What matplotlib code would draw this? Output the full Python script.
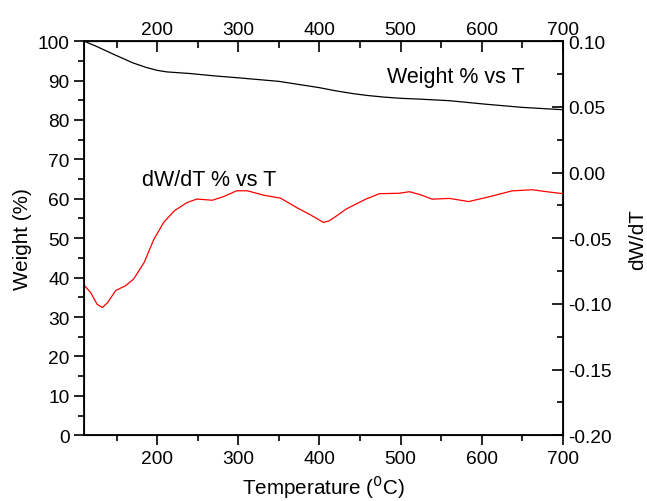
import matplotlib
matplotlib.use("Agg")
import matplotlib.pyplot as plt
from matplotlib.ticker import MultipleLocator, FormatStrFormatter

plt.rcParams['font.family'] = ['Liberation Sans', 'DejaVu Sans']

# weight loss curve (left axis)
temp_w = [110, 125, 146, 170, 187, 200, 212, 240, 270, 300, 350, 400, 420, 441, 460, 480, 500, 523, 560, 605, 650, 700]
weight = [100, 98.7, 96.7, 94.5, 93.3, 92.6, 92.2, 91.8, 91.2, 90.7, 89.8, 88.2, 87.4, 86.7, 86.2, 85.8, 85.5, 85.3,
          84.9, 84.0, 83.2, 82.6]

# derivative curve (right axis)
temp_d = [110, 118, 126, 132.5, 139, 149, 161, 171, 184, 196, 208, 221, 237, 249, 268, 282, 298, 311, 331, 352,
          372, 390, 405, 412, 420, 433, 457, 474, 498, 511, 525, 539, 560, 584, 613, 637, 662, 680, 700]
dwdt = [-0.0858, -0.0913, -0.1003, -0.1028, -0.0990, -0.0898, -0.0862, -0.0811, -0.0685, -0.0508, -0.038,
        -0.0292, -0.0228, -0.0202, -0.0211, -0.0183, -0.0139, -0.0139, -0.0172, -0.0195, -0.0267, -0.0326,
        -0.038, -0.0368, -0.0335, -0.0278, -0.0203, -0.0161, -0.0158, -0.0146, -0.017, -0.0203, -0.0197,
        -0.0221, -0.0179, -0.014, -0.0131, -0.0146, -0.0161]

fig = plt.figure(figsize=(6.47, 5.02), dpi=100)
ax = fig.add_axes([0.13, 0.131, 0.74, 0.785])
ax.plot(temp_w, weight, color='black', lw=0.9)
ax.set_xlim(110, 700)
ax.set_ylim(0, 100)
ax.xaxis.set_major_locator(MultipleLocator(100))
ax.xaxis.set_minor_locator(MultipleLocator(50))
ax.yaxis.set_major_locator(MultipleLocator(10))
ax.yaxis.set_minor_locator(MultipleLocator(5))
ax.tick_params(which='both', direction='out', labelsize=13.8, width=1.2)
ax.tick_params(which='major', length=7)
ax.tick_params(which='minor', length=4)
ax.set_xlabel('Temperature ($^0$C)', fontsize=14.9)
ax.set_ylabel('Weight (%)', fontsize=14.9)
for s in ax.spines.values():
    s.set_linewidth(1.3)

top = ax.secondary_xaxis('top')
top.xaxis.set_major_locator(MultipleLocator(100))
top.xaxis.set_minor_locator(MultipleLocator(50))
top.tick_params(which='both', direction='in', labelsize=13.8, width=1.2, pad=2)
top.tick_params(which='major', length=8)
top.tick_params(which='minor', length=5)

ax2 = ax.twinx()
ax2.plot(temp_d, dwdt, color='red', lw=0.9)
ax2.set_ylim(-0.20, 0.10)
ax2.yaxis.set_major_locator(MultipleLocator(0.05))
ax2.yaxis.set_minor_locator(MultipleLocator(0.025))
ax2.yaxis.set_major_formatter(FormatStrFormatter('%.2f'))
ax2.tick_params(which='both', direction='in', labelsize=13.8, width=1.2)
ax2.tick_params(which='major', length=8)
ax2.tick_params(which='minor', length=4)
ax2.set_ylabel('dW/dT', fontsize=14.9, labelpad=12)

# empty offset texts are not needed
for a in (ax.xaxis, ax.yaxis, ax2.xaxis, ax2.yaxis, top.xaxis):
    a.get_offset_text().set_visible(False)

ax.text(483, 91.1, 'Weight % vs T', fontsize=15.5, va='center')
ax.text(181, 65, 'dW/dT % vs T', fontsize=15.5, va='center')

fig.savefig('out.png', dpi=100)
